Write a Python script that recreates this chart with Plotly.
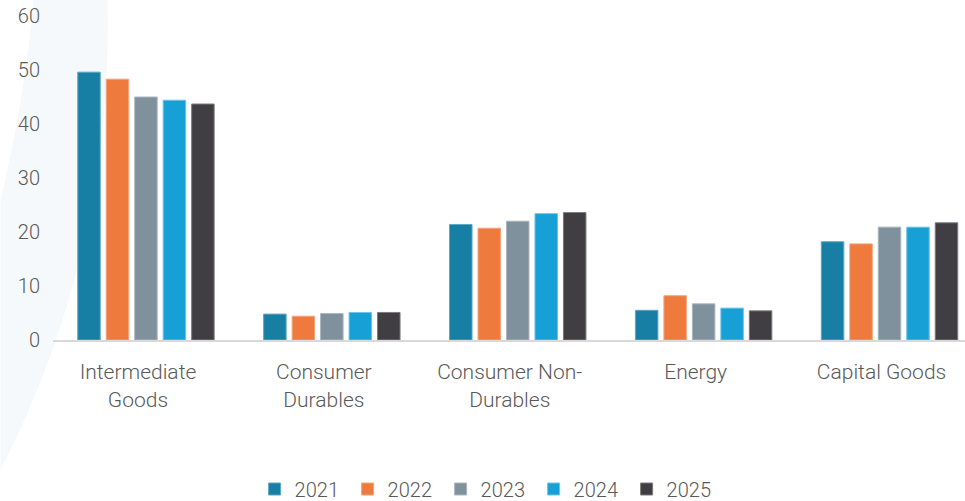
import plotly.graph_objects as go

categories = ["Intermediate<br>Goods", "Consumer<br>Durables", "Consumer Non-<br>Durables", "Energy", "Capital Goods"]
years = ["2021", "2022", "2023", "2024", "2025"]
values_2021 = [49.6, 4.8, 21.4, 5.5, 18.2]
values_2022 = [48.3, 4.4, 20.7, 8.2, 17.8]
values_2023 = [45.0, 4.9, 22.0, 6.7, 20.9]
values_2024 = [44.4, 5.1, 23.4, 5.9, 20.9]
values_2025 = [43.7, 5.1, 23.6, 5.4, 21.7]
series_values = [values_2021, values_2022, values_2023, values_2024, values_2025]
colors = ["#167FA3", "#EE7A3E", "#7F919C", "#17A0D6", "#403E42"]
edge_colors = ["#5FA7C2", "#F5A47A", "#A9B6BE", "#6CC3E6", "#7A797C"]
y_ticks = [0, 10, 20, 30, 40, 50, 60]

FONT = "Roboto"
TXT = "#595959"

fig = go.Figure()
for yr, vals, c, ec in zip(years, series_values, colors, edge_colors):
    fig.add_trace(go.Bar(
        name=yr, x=categories, y=vals,
        marker=dict(color=c, line=dict(color=ec, width=1)),
    ))

# faint decorative crescent in background (paper coords)
def px(xp):
    return (xp - 52.5) / 912.5
def py(yp):
    return (340 - yp) / 324.0

path = (f"M {px(33)},{py(-2)} L {px(107)},{py(-2)} "
        f"C {px(112)},{py(170)} {px(72)},{py(330)} {px(0)},{py(470)} "
        f"L {px(0)},{py(200)} "
        f"C {px(12)},{py(150)} {px(26)},{py(80)} {px(33)},{py(-2)} Z")
fig.add_shape(type="path", path=path, xref="paper", yref="paper",
              fillcolor="#F6F9FB", line=dict(width=0), layer="below")

fig.update_layout(
    width=965, height=501,
    margin=dict(l=52.5, r=0, t=16, b=161, autoexpand=False),
    paper_bgcolor="white", plot_bgcolor="rgba(0,0,0,0)",
    barmode="group", bargap=0.234, bargroupgap=0.21,
    font=dict(family=FONT, color=TXT, size=20, weight=300),
    showlegend=True,
    legend=dict(orientation="h", x=0.476, xanchor="center",
                yref="container", y=(501 - 489) / 501, yanchor="middle",
                font=dict(family=FONT, size=20, color=TXT, weight=300),
                entrywidth=48, entrywidthmode="pixels", traceorder="normal",
                bgcolor="rgba(0,0,0,0)"),
    xaxis=dict(range=[-0.5, 4.406], showgrid=False, showline=True, linecolor="#D9D9D9",
               linewidth=2, ticks="outside", ticklen=12, tickcolor="rgba(0,0,0,0)",
               ticklabelshift=-8,
               tickfont=dict(family=FONT, size=21, color=TXT, weight=300), zeroline=False,
               automargin=False),
    yaxis=dict(range=[0, 60], tickvals=y_ticks, showgrid=False, showline=False, zeroline=False,
               ticks="outside", ticklen=8, tickcolor="rgba(0,0,0,0)",
               tickfont=dict(family=FONT, size=20, color=TXT, weight=300), automargin=False),
)

fig.write_html("out.html", config={"displayModeBar": False},
               post_script="document.body.style.margin='0';document.body.style.overflow='hidden';")
